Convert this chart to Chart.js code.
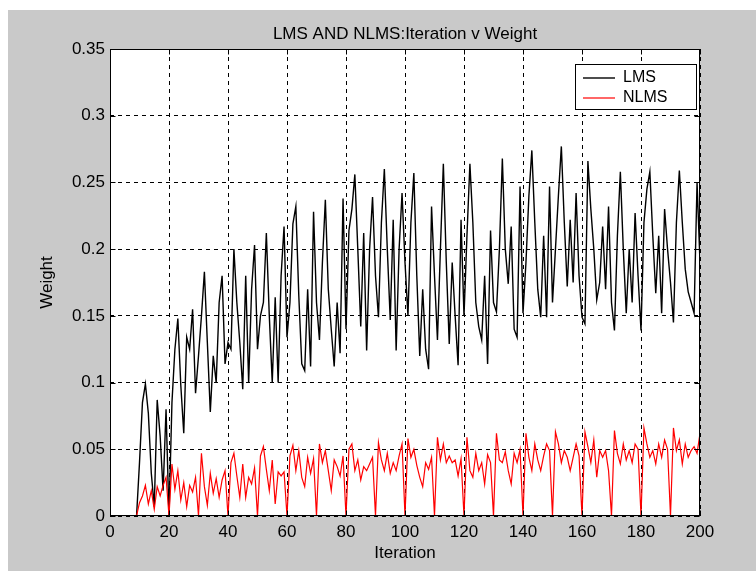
<!DOCTYPE html>
<html>
<head>
<meta charset="utf-8">
<title>LMS AND NLMS: Iteration v Weight</title>
<script src="https://cdn.jsdelivr.net/npm/chart.js@4.4.1/dist/chart.umd.min.js"></script>
<style>
  html, body { margin: 0; padding: 0; background: #fff; }
  canvas { display: block; }
</style>
</head>
<body>
<canvas id="chart" width="756" height="571"></canvas>
<script>
const xTickLabels = ['0', '20', '40', '60', '80', '100', '120', '140', '160', '180', '200'];
const yTickLabels = ['0', '0.05', '0.1', '0.15', '0.2', '0.25', '0.3', '0.35'];

// weight per iteration, 0..200
const lmsWeights = [
  0, 0, 0, 0, 0, 0, 0, 0, 0, 0,
  0.040, 0.085, 0.099, 0.077, 0.032, 0.007, 0.087, 0.060, 0.019, 0.080,
  0.000, 0.085, 0.125, 0.148, 0.098, 0.062, 0.134, 0.125, 0.155, 0.092,
  0.120, 0.150, 0.183, 0.130, 0.078, 0.120, 0.100, 0.160, 0.180, 0.114,
  0.130, 0.125, 0.200, 0.160, 0.130, 0.095, 0.180, 0.100, 0.170, 0.203,
  0.125, 0.150, 0.160, 0.212, 0.150, 0.100, 0.164, 0.100, 0.180, 0.217,
  0.134, 0.160, 0.219, 0.232, 0.165, 0.114, 0.109, 0.170, 0.112, 0.228,
  0.160, 0.132, 0.190, 0.237, 0.170, 0.140, 0.112, 0.160, 0.122, 0.238,
  0.140, 0.214, 0.230, 0.256, 0.200, 0.142, 0.212, 0.124, 0.200, 0.239,
  0.180, 0.149, 0.220, 0.260, 0.200, 0.147, 0.222, 0.124, 0.200, 0.242,
  0.190, 0.150, 0.220, 0.257, 0.180, 0.120, 0.170, 0.125, 0.110, 0.232,
  0.180, 0.132, 0.200, 0.264, 0.190, 0.129, 0.190, 0.150, 0.113, 0.222,
  0.150, 0.210, 0.264, 0.220, 0.160, 0.142, 0.132, 0.180, 0.114, 0.214,
  0.160, 0.153, 0.200, 0.268, 0.200, 0.174, 0.217, 0.140, 0.134, 0.247,
  0.152, 0.190, 0.240, 0.274, 0.220, 0.170, 0.149, 0.210, 0.149, 0.247,
  0.160, 0.200, 0.240, 0.277, 0.220, 0.172, 0.222, 0.175, 0.242, 0.180,
  0.149, 0.144, 0.266, 0.230, 0.200, 0.162, 0.175, 0.217, 0.170, 0.232,
  0.160, 0.139, 0.210, 0.258, 0.200, 0.152, 0.200, 0.160, 0.227, 0.180,
  0.139, 0.220, 0.245, 0.258, 0.210, 0.167, 0.210, 0.152, 0.230, 0.200,
  0.175, 0.145, 0.220, 0.259, 0.220, 0.185, 0.168, 0.160, 0.152, 0.250,
  0.190
];

const nlmsWeights = [
  0, 0, 0, 0, 0, 0, 0, 0, 0, 0,
  0.010, 0.015, 0.023, 0.009, 0.019, 0.005, 0.022, 0.015, 0.023, 0.029,
  0.000, 0.039, 0.020, 0.034, 0.012, 0.025, 0.007, 0.023, 0.018, 0.029,
  0.000, 0.047, 0.022, 0.008, 0.032, 0.017, 0.028, 0.014, 0.027, 0.034,
  0.000, 0.040, 0.047, 0.030, 0.014, 0.039, 0.014, 0.029, 0.024, 0.036,
  0.000, 0.045, 0.052, 0.035, 0.019, 0.042, 0.009, 0.033, 0.030, 0.033,
  0.000, 0.045, 0.053, 0.034, 0.049, 0.029, 0.022, 0.044, 0.032, 0.043,
  0.000, 0.054, 0.040, 0.049, 0.034, 0.019, 0.042, 0.037, 0.030, 0.045,
  0.000, 0.050, 0.054, 0.034, 0.042, 0.027, 0.037, 0.034, 0.039, 0.044,
  0.000, 0.055, 0.042, 0.034, 0.047, 0.032, 0.040, 0.034, 0.045, 0.054,
  0.000, 0.058, 0.044, 0.050, 0.038, 0.029, 0.022, 0.040, 0.035, 0.044,
  0.000, 0.059, 0.042, 0.054, 0.040, 0.045, 0.040, 0.042, 0.030, 0.043,
  0.000, 0.059, 0.034, 0.029, 0.047, 0.034, 0.040, 0.024, 0.046, 0.040,
  0.000, 0.062, 0.042, 0.040, 0.048, 0.034, 0.024, 0.047, 0.040, 0.050,
  0.000, 0.062, 0.044, 0.034, 0.054, 0.042, 0.034, 0.045, 0.054, 0.049,
  0.000, 0.063, 0.054, 0.040, 0.049, 0.044, 0.034, 0.044, 0.054, 0.045,
  0.000, 0.063, 0.052, 0.040, 0.057, 0.029, 0.049, 0.044, 0.049, 0.034,
  0.000, 0.064, 0.047, 0.039, 0.054, 0.042, 0.049, 0.040, 0.054, 0.050,
  0.000, 0.066, 0.054, 0.044, 0.049, 0.039, 0.054, 0.044, 0.057, 0.050,
  0.000, 0.066, 0.049, 0.057, 0.039, 0.054, 0.044, 0.049, 0.052, 0.047,
  0.062
];

Chart.defaults.font.family = '"Liberation Sans", Arial, sans-serif';
Chart.defaults.font.size = 17;
Chart.defaults.color = '#000';

// gray figure, white axes box, inward ticks and a boxed legend like matlab
const figure = {
  id: 'figure',
  beforeDraw(chart) {
    const { ctx, chartArea: a } = chart;
    ctx.save();
    ctx.fillStyle = '#fff';
    ctx.fillRect(0, 0, chart.width, chart.height);
    ctx.fillStyle = '#c9c9c9';
    ctx.fillRect(8, 10, chart.width - 8, chart.height - 10);
    ctx.fillStyle = '#fff';
    ctx.fillRect(a.left, a.top, a.right - a.left, a.bottom - a.top);
    ctx.restore();
  },
  afterLayout(chart) {
    const lg = chart.legend, a = chart.chartArea;
    lg.left = a.right - 121;
    lg.top = a.top + 17;
    lg.width = 118;
    lg.height = 60;
    lg.right = lg.left + lg.width;
    lg.bottom = lg.top + lg.height;
  },
  afterDraw(chart) {
    const { ctx, chartArea: a } = chart;
    const xs = chart.scales.x, ys = chart.scales.y;
    const l = Math.round(a.left) + 0.5, r = Math.round(a.right) - 0.5;
    const t = Math.round(a.top) + 0.5, b = Math.round(a.bottom) - 0.5;
    ctx.save();
    ctx.strokeStyle = '#000';
    ctx.lineWidth = 1;
    ctx.beginPath();
    xs.ticks.forEach(tk => {
      const px = Math.round(xs.getPixelForValue(tk.value)) + 0.5;
      ctx.moveTo(px, b); ctx.lineTo(px, b - 5);
      ctx.moveTo(px, t); ctx.lineTo(px, t + 5);
    });
    ys.ticks.forEach(tk => {
      const py = Math.round(ys.getPixelForValue(tk.value)) + 0.5;
      ctx.moveTo(l, py); ctx.lineTo(l + 5, py);
      ctx.moveTo(r, py); ctx.lineTo(r - 5, py);
    });
    ctx.stroke();
    ctx.strokeRect(l, t, r - l, b - t);

    const bx = Math.round(a.right) - 124.5, by = Math.round(a.top) + 15.5;
    ctx.fillStyle = '#fff';
    ctx.fillRect(bx, by, 121, 45);
    ctx.strokeRect(bx, by, 121, 45);
    ctx.restore();
    chart.legend.draw();
  }
};

new Chart(document.getElementById('chart'), {
  type: 'line',
  data: {
    datasets: [
      {
        label: 'LMS',
        data: lmsWeights.map((w, i) => ({ x: i, y: w })),
        borderColor: '#000000',
        backgroundColor: '#000000',
        borderWidth: 1.4,
        pointRadius: 0,
        tension: 0,
        order: 2
      },
      {
        label: 'NLMS',
        data: nlmsWeights.map((w, i) => ({ x: i, y: w })),
        borderColor: '#ff0000',
        backgroundColor: '#ff0000',
        borderWidth: 1.2,
        pointRadius: 0,
        tension: 0,
        order: 1
      }
    ]
  },
  options: {
    responsive: false,
    animation: false,
    events: [],
    layout: { padding: { left: 0, right: 56, top: 0, bottom: 0 } },
    scales: {
      x: {
        type: 'linear',
        min: 0,
        max: 200,
        afterFit: s => { s.height = 55; },
        ticks: { stepSize: 20, padding: 6, maxRotation: 0, autoSkip: false, callback: (v, i) => xTickLabels[i] },
        grid: { color: '#000', drawTicks: false },
        border: { display: false, dash: [4, 4] },
        title: { display: true, text: 'Iteration', padding: { top: 0, bottom: 7 } }
      },
      y: {
        min: 0,
        max: 0.35,
        afterFit: s => { s.width = 110; },
        ticks: { stepSize: 0.05, padding: 5, autoSkip: false, callback: (v, i) => yTickLabels[i] },
        grid: { color: '#000', drawTicks: false },
        border: { display: false, dash: [4, 4] },
        title: { display: true, text: 'Weight', padding: { top: 37, bottom: 0 } }
      }
    },
    plugins: {
      title: {
        display: true,
        text: 'LMS AND NLMS:Iteration v Weight',
        fullSize: false,
        color: '#000',
        font: { size: 17, weight: 'normal' },
        padding: { top: 24, bottom: 4.6 }
      },
      legend: {
        position: 'chartArea',
        align: 'start',
        labels: {
          usePointStyle: true,
          pointStyle: 'line',
          pointStyleWidth: 32,
          padding: 4,
          color: '#000',
          font: { size: 16 },
          sort: (a, b) => a.datasetIndex - b.datasetIndex
        }
      },
      tooltip: { enabled: false }
    }
  },
  plugins: [figure]
});
</script>
</body>
</html>
